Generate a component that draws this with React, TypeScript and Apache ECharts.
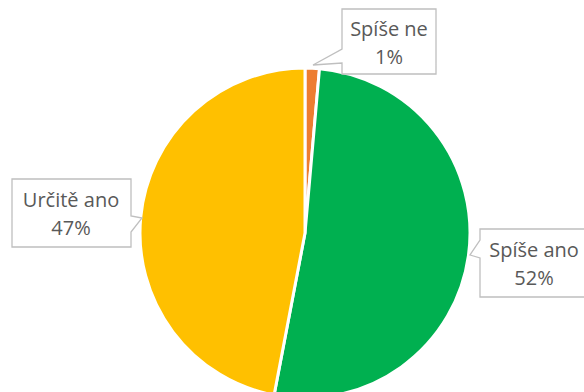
import React, { useEffect, useRef } from "react";
import * as echarts from "echarts";

const categories = ["Spíše ne", "Spíše ano", "Určitě ano"];
const values = [1.4, 51.6, 47.0];
const colors = ["#ED7D31", "#00B050", "#FFC000"];

// callout layout (annotation only): text centre and bubble outline
const calloutCenters = [
  [389, 42],
  [534, 263],
  [71, 213],
];
const calloutShapes = [
  [[342, 9], [436, 9], [436, 74], [342, 74], [342, 63], [313, 65], [342, 49]],
  [[480, 229], [590, 229], [590, 297], [480, 297], [480, 258], [470, 255], [480, 240]],
  [[12, 179], [131, 179], [131, 216], [142, 218], [131, 232], [131, 247], [12, 247]],
];

export default function App() {
  const ref = useRef<HTMLDivElement>(null);
  useEffect(() => {
    if (!ref.current) return;
    const chart = echarts.init(ref.current, null, { renderer: "svg" });
    const total = values.reduce((a, b) => a + b, 0);
    const graphic: any[] = [];
    categories.forEach((c, i) => {
      graphic.push({
        type: "polygon",
        z: 100,
        shape: { points: calloutShapes[i] },
        style: { fill: "#ffffff", stroke: "#BFBFBF", lineWidth: 1.3 },
      });
      graphic.push({
        type: "text",
        z: 101,
        x: calloutCenters[i][0],
        y: calloutCenters[i][1],
        style: {
          text: `${c}\n${Math.round((values[i] / total) * 100)}%`,
          font: "20px 'Open Sans'",
          lineHeight: 28,
          fill: "#595959",
          align: "center",
          verticalAlign: "middle",
        },
      });
    });
    chart.setOption({
      animation: false,
      graphic,
      series: [
        {
          type: "pie",
          center: [305, 233],
          radius: 165,
          startAngle: 90,
          clockwise: true,
          data: categories.map((c, i) => ({
            name: c,
            value: values[i],
            itemStyle: { color: colors[i] },
          })),
          itemStyle: { borderColor: "#ffffff", borderWidth: 3 },
          emphasis: { disabled: true },
          label: { show: false },
          labelLine: { show: false },
        },
      ],
    });
    return () => chart.dispose();
  }, []);
  return (
    <div
      ref={ref}
      style={{ position: "fixed", left: 0, top: 0, width: 584, height: 392, background: "#ffffff" }}
    />
  );
}
